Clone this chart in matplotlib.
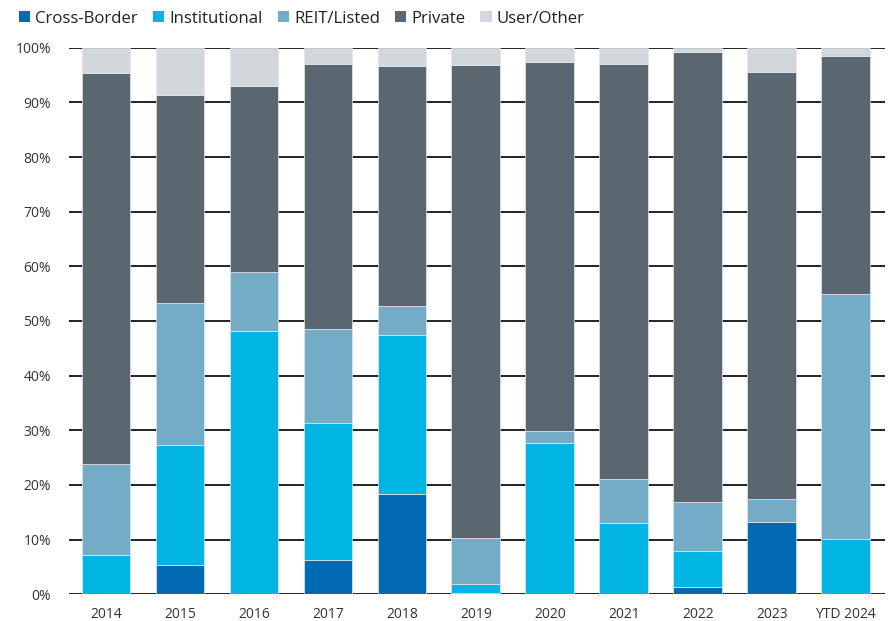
import matplotlib
matplotlib.use("Agg")
import matplotlib.pyplot as plt
from matplotlib.patches import Patch
import numpy as np

plt.rcParams['font.family'] = ['Open Sans', 'DejaVu Sans']

years = ["2014", "2015", "2016", "2017", "2018", "2019", "2020", "2021", "2022", "2023", "YTD 2024"]

cross_border = [0.0, 5.4, 0.0, 6.3, 18.4, 0.3, 0.0, 0.0, 1.3, 13.3, 0.0]
institutional = [7.2, 21.9, 48.2, 25.0, 29.1, 1.6, 27.7, 13.0, 6.7, 0.0, 10.1]
reit_listed = [16.6, 26.0, 10.8, 17.2, 5.2, 8.4, 2.1, 8.1, 8.8, 4.1, 44.8]
private = [71.6, 38.0, 34.0, 48.6, 44.0, 86.6, 67.6, 76.0, 82.5, 78.1, 43.6]
user_other = [4.6, 8.7, 7.0, 2.9, 3.3, 3.1, 2.6, 2.9, 0.7, 4.5, 1.5]

series = [
    ("Cross-Border", cross_border, "#006bb3"),
    ("Institutional", institutional, "#00b5e2"),
    ("REIT/Listed", reit_listed, "#74abc7"),
    ("Private", private, "#5a6670"),
    ("User/Other", user_other, "#d2d7db"),
]

fig = plt.figure(figsize=(8.93, 6.21), dpi=100)
ax = fig.add_axes([0.0773, 0.043, 0.9137, 0.8802])

x = np.arange(len(years))
bottom = np.zeros(len(years))
for name, vals, color in series:
    v = np.array(vals)
    ax.bar(x, v, width=0.66, bottom=bottom, color=color, edgecolor="#e4e8ea",
           linewidth=0.5, zorder=3, label=name)
    bottom += v

ax.set_ylim(0, 100)
ax.set_xlim(-0.5, 10.53)
ax.set_yticks(np.arange(0, 101, 10))
ax.set_yticklabels([f"{t}%" for t in range(0, 101, 10)])
ax.set_xticks(x)
ax.set_xticklabels(years)
ax.yaxis.grid(True, color="#111111", linewidth=1.3, zorder=0)
ax.set_axisbelow(True)
for s in ax.spines.values():
    s.set_visible(False)
ax.tick_params(axis="both", length=0, labelsize=10, colors="#333333")
ax.tick_params(axis="y", pad=13)
ax.tick_params(axis="x", pad=9)

handles = [Patch(facecolor=c, edgecolor="none", label=n) for n, _, c in series]
fig.legend(handles=handles, loc="upper left", bbox_to_anchor=(19 / 893, 0.983), ncol=5,
           frameon=False, fontsize=12.1, handlelength=0.68, handleheight=0.68,
           handletextpad=0.3, columnspacing=0.88, borderpad=0, borderaxespad=0,
           labelcolor="#222222")

fig.savefig("out.png", dpi=100)
